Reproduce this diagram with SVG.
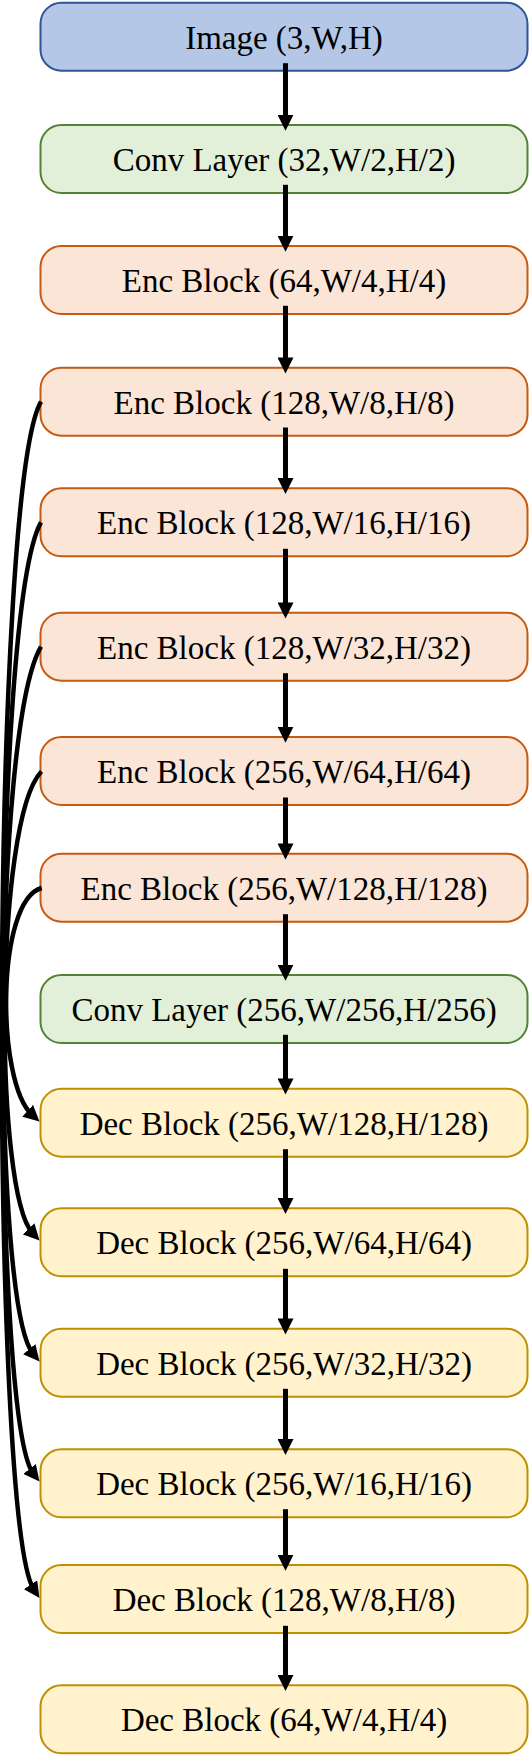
<svg xmlns="http://www.w3.org/2000/svg" width="529" height="1758" viewBox="0 0 529 1758">
<style>
rect{stroke-width:2}
.img{fill:#B4C7E7;stroke:#2F5597}
.conv{fill:#E2F0D9;stroke:#548235}
.enc{fill:#FBE5D6;stroke:#C55A11}
.dec{fill:#FFF2CC;stroke:#BF9000}
text{font-family:"Liberation Serif","Times New Roman",serif;font-size:33px;fill:#000;text-anchor:middle}
.v{stroke:#000;stroke-width:5;fill:none}
.c{stroke:#000;stroke-width:4.5;fill:none}
</style>
<defs>
<marker id="ah" markerUnits="userSpaceOnUse" markerWidth="17" markerHeight="16" viewBox="0 0 17 16" refX="6" refY="8" orient="auto">
<path d="M0,0 L16,8 L0,16 z" fill="#000"/>
</marker>
</defs>
<g id="n1"><rect class="img" x="40.5" y="2.7" width="487" height="68" rx="21"/><text x="284" y="48.7">Image (3,W,H)</text></g>
<g id="n2"><rect class="conv" x="40.5" y="125" width="487" height="68" rx="21"/><text x="284" y="171">Conv Layer (32,W/2,H/2)</text></g>
<g id="n3"><rect class="enc" x="40.5" y="246" width="487" height="68" rx="21"/><text x="284" y="292">Enc Block (64,W/4,H/4)</text></g>
<g id="n4"><rect class="enc" x="40.5" y="367.7" width="487" height="68" rx="21"/><text x="284" y="413.7">Enc Block (128,W/8,H/8)</text></g>
<g id="n5"><rect class="enc" x="40.5" y="488.3" width="487" height="68" rx="21"/><text x="284" y="534.3">Enc Block (128,W/16,H/16)</text></g>
<g id="n6"><rect class="enc" x="40.5" y="612.7" width="487" height="68" rx="21"/><text x="284" y="658.7">Enc Block (128,W/32,H/32)</text></g>
<g id="n7"><rect class="enc" x="40.5" y="737" width="487" height="68" rx="21"/><text x="284" y="783">Enc Block (256,W/64,H/64)</text></g>
<g id="n8"><rect class="enc" x="40.5" y="853.7" width="487" height="68" rx="21"/><text x="284" y="899.7">Enc Block (256,W/128,H/128)</text></g>
<g id="n9"><rect class="conv" x="40.5" y="975" width="487" height="68" rx="21"/><text x="284" y="1021">Conv Layer (256,W/256,H/256)</text></g>
<g id="n10"><rect class="dec" x="40.5" y="1088.7" width="487" height="68" rx="21"/><text x="284" y="1134.7">Dec Block (256,W/128,H/128)</text></g>
<g id="n11"><rect class="dec" x="40.5" y="1208.3" width="487" height="68" rx="21"/><text x="284" y="1254.3">Dec Block (256,W/64,H/64)</text></g>
<g id="n12"><rect class="dec" x="40.5" y="1328.7" width="487" height="68" rx="21"/><text x="284" y="1374.7">Dec Block (256,W/32,H/32)</text></g>
<g id="n13"><rect class="dec" x="40.5" y="1449.3" width="487" height="68" rx="21"/><text x="284" y="1495.3">Dec Block (256,W/16,H/16)</text></g>
<g id="n14"><rect class="dec" x="40.5" y="1565" width="487" height="68" rx="21"/><text x="284" y="1611">Dec Block (128,W/8,H/8)</text></g>
<g id="n15"><rect class="dec" x="40.5" y="1685.3" width="487" height="68" rx="21"/><text x="284" y="1731.3">Dec Block (64,W/4,H/4)</text></g>
<g id="connectors">
<line class="v" x1="285.5" y1="63.2" x2="285.5" y2="120.7" marker-end="url(#ah)"/>
<line class="v" x1="285.5" y1="184.8" x2="285.5" y2="241.7" marker-end="url(#ah)"/>
<line class="v" x1="285.5" y1="305.8" x2="285.5" y2="363.4" marker-end="url(#ah)"/>
<line class="v" x1="285.5" y1="427.5" x2="285.5" y2="484" marker-end="url(#ah)"/>
<line class="v" x1="285.5" y1="548.8" x2="285.5" y2="608.4" marker-end="url(#ah)"/>
<line class="v" x1="285.5" y1="673.2" x2="285.5" y2="732.7" marker-end="url(#ah)"/>
<line class="v" x1="285.5" y1="797.5" x2="285.5" y2="849.4" marker-end="url(#ah)"/>
<line class="v" x1="285.5" y1="914.2" x2="285.5" y2="970.7" marker-end="url(#ah)"/>
<line class="v" x1="285.5" y1="1034.8" x2="285.5" y2="1084.4" marker-end="url(#ah)"/>
<line class="v" x1="285.5" y1="1149.2" x2="285.5" y2="1204" marker-end="url(#ah)"/>
<line class="v" x1="285.5" y1="1268.8" x2="285.5" y2="1324.4" marker-end="url(#ah)"/>
<line class="v" x1="285.5" y1="1388.8" x2="285.5" y2="1445" marker-end="url(#ah)"/>
<line class="v" x1="285.5" y1="1509.2" x2="285.5" y2="1560.7" marker-end="url(#ah)"/>
<line class="v" x1="285.5" y1="1625.8" x2="285.5" y2="1681" marker-end="url(#ah)"/>
<path class="c" d="M41,401.7 C-10,490 -10,1524 33.9,1589.7" marker-end="url(#ah)"/>
<path class="c" d="M41,522.3 C-9,610 -9,1420 33.3,1473.6" marker-end="url(#ah)"/>
<path class="c" d="M41,646.7 C-8,730 -8,1305 33.1,1353.8" marker-end="url(#ah)"/>
<path class="c" d="M41.5,771.5 C-6,820 -6,1192 32.7,1233.2" marker-end="url(#ah)"/>
<path class="c" d="M41.7,888 C-4,900 -4,1082 32.1,1114.8" marker-end="url(#ah)"/>
</g>
</svg>
